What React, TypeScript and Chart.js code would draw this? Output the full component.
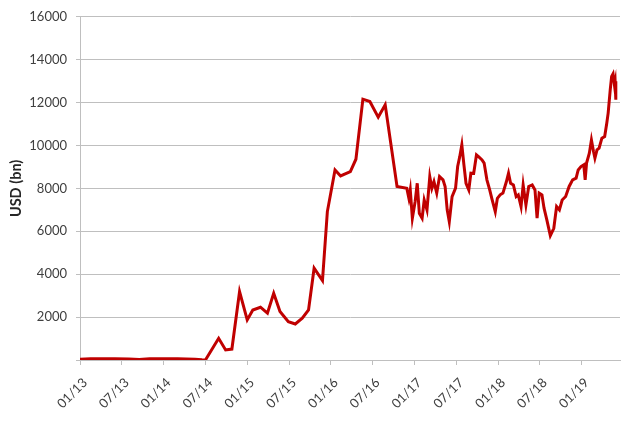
import React, { useEffect, useRef } from 'react';
import Chart from 'chart.js/auto';

// months since Jan 2013
const months = [
  0, 1.5, 3, 5, 7, 8.5, 10, 12, 14, 16.5, 17.5, 18,
  19.9, 20.9, 21.8, 22.9, 24.0, 24.8, 25.9, 26.9, 27.8, 28.7, 29.9, 30.9, 31.9, 32.8, 33.6, 34.8,
  35.5, 36.6, 37.4, 38.8, 39.6, 40.6, 41.6, 42.8, 43.8, 45.5, 46.9,
  47.2, 47.4, 47.7, 48.1, 48.4, 48.7, 49.1, 49.4, 49.8, 50.2, 50.5, 50.8, 51.2, 51.6, 52.1, 52.4,
  52.7, 53.0, 53.4, 53.9, 54.2, 54.5, 54.8, 55.1, 55.4, 55.8, 56.1, 56.5, 56.9, 57.2, 57.7, 58.0,
  58.4, 58.8, 59.1, 59.6, 59.9, 60.3, 60.7, 61.2, 61.5, 61.8, 62.2, 62.6, 62.9, 63.3, 63.6, 64.0,
  64.4, 64.9, 65.3, 65.6, 65.9, 66.3, 66.6, 67.0, 67.5, 68.0, 68.4, 68.8, 69.2, 69.7, 70.2, 70.7,
  71.2, 71.5, 71.9, 72.3, 72.5, 72.7, 73.1, 73.4, 73.7, 73.9, 74.2, 74.5, 74.9, 75.3, 75.6, 75.8,
  76.1, 76.3, 76.5, 76.7, 76.8, 76.9,
];

// USD bn
const values = [
  30, 60, 60, 55, 50, 20, 60, 60, 55, 40, 10, 0,
  1010, 470, 510, 3190, 1870, 2330, 2460, 2180, 3110, 2260, 1790, 1680, 1950, 2330, 4280, 3700,
  6920, 8860, 8580, 8780, 9360, 12160, 12050, 11320, 11900, 8090, 8010,
  7540, 7930, 6610, 7390, 8240, 6840, 6610, 7460, 7000, 8550, 8010, 8320, 7780, 8550, 8400, 8090,
  7000, 6450, 7620, 8010, 9020, 9480, 10030, 9100, 8240, 7930, 8710, 8700, 9560, 9480, 9330, 9180,
  8400, 7930, 7540, 6920, 7540, 7700, 7780, 8320, 8710, 8240, 8160, 7620, 7700, 7150, 8160, 7230,
  8090, 8160, 7930, 6610, 7780, 7700, 7080, 6530, 5800, 6140, 7150, 7000, 7460, 7620, 8090, 8400,
  8480, 8860, 9020, 9100, 8400, 9180, 9640, 10260, 9720, 9410, 9800, 9880, 10340, 10420, 11040, 11510,
  12600, 13220, 13340, 12830, 12990, 12130,
];

const tickMonths = [0, 6, 12, 18, 24, 30, 36, 42, 48, 54, 60, 66, 72];
const tickLabels = ['01/13', '07/13', '01/14', '07/14', '01/15', '07/15', '01/16', '07/16', '01/17', '07/17', '01/18', '07/18', '01/19'];

const FONT = 'Lato, "Open Sans", sans-serif';
const GRID = '#BFBFBF';

const App: React.FC = () => {
  const canvasRef = useRef<HTMLCanvasElement>(null);
  const chartRef = useRef<Chart | null>(null);

  useEffect(() => {
    if (!canvasRef.current) return;
    chartRef.current = new Chart(canvasRef.current, {
      type: 'line',
      data: {
        datasets: [
          {
            data: months.map((m, i) => ({ x: m, y: values[i] })),
            borderColor: '#C00000',
            borderWidth: 3,
            pointRadius: 0,
            tension: 0,
            fill: false,
          },
        ],
      },
      options: {
        animation: false,
        responsive: true,
        maintainAspectRatio: false,
        layout: { padding: { top: 11, right: 5, left: 0, bottom: 0 } },
        plugins: { legend: { display: false }, tooltip: { enabled: false } },
        scales: {
          x: {
            type: 'linear',
            min: 0,
            max: 77.5,
            afterBuildTicks: (scale: any) => {
              scale.ticks = tickMonths.map((v) => ({ value: v }));
            },
            afterFit: (scale: any) => {
              scale.height = 61;
            },
            grid: { drawOnChartArea: false, drawTicks: true, tickLength: 5, color: GRID },
            border: { color: GRID },
            ticks: {
              autoSkip: false,
              minRotation: 45,
              maxRotation: 45,
              padding: 10,
              labelOffset: 5,
              color: '#404040',
              font: { family: FONT, size: 13 },
              callback: (v: any) => tickLabels[tickMonths.indexOf(Number(v))] ?? '',
            },
          },
          y: {
            min: 0,
            max: 16000,
            afterFit: (scale: any) => {
              scale.width = 80;
            },
            grid: { color: GRID, tickLength: 4 },
            border: { color: GRID },
            ticks: {
              stepSize: 2000,
              padding: 9,
              color: '#404040',
              font: { family: FONT, size: 13 },
              callback: (v: any) => (Number(v) === 0 ? '' : String(v)),
            },
            title: {
              display: true,
              text: 'USD (bn)',
              color: '#262626',
              font: { family: FONT, size: 14.5, weight: 'bold' },
              padding: { top: 8, bottom: 0 },
            },
          },
        },
      },
    });
    return () => {
      chartRef.current?.destroy();
      chartRef.current = null;
    };
  }, []);

  return (
    <div style={{ position: 'fixed', left: 0, top: 0, width: 625, height: 421, background: '#fff' }}>
      <canvas ref={canvasRef}></canvas>
    </div>
  );
};

export default App;
